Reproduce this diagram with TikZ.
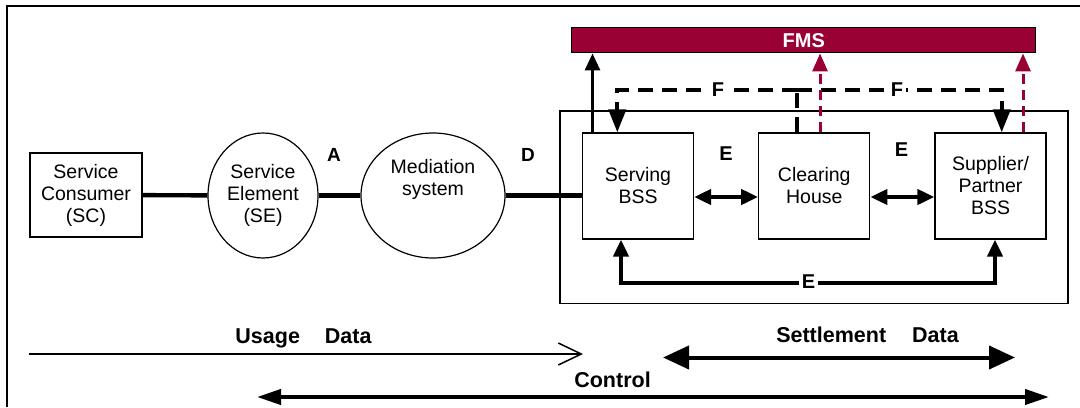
\documentclass[tikz,border=0pt]{standalone}
\usepackage{fontspec}
\setmainfont{Liberation Sans}
\usetikzlibrary{arrows.meta,shapes.geometric}
\definecolor{fmsred}{HTML}{990033}

\begin{document}
\begin{tikzpicture}[x=0.5pt, y=-0.5pt,
    unit/.style={rectangle, draw, line width=0.6pt, align=center,
        inner sep=1pt, font=\fontsize{9.75}{11}\selectfont},
    bss/.style={unit, minimum width=55.5pt, minimum height=53pt},
    element/.style={ellipse, draw, line width=0.6pt, align=center,
        inner sep=0pt, font=\fontsize{9.75}{11}\selectfont},
    fms/.style={rectangle, draw, line width=0.6pt, fill=fmsred, text=white,
        inner sep=0pt, minimum width=232pt, minimum height=12.5pt,
        font=\bfseries\fontsize{10}{12}\selectfont},
    tag/.style={font=\bfseries\fontsize{10}{12}\selectfont, inner sep=1.5pt},
    flow/.style={font=\bfseries\fontsize{10.75}{13}\selectfont, anchor=base},
    link/.style={line width=2.2pt},
    exchange/.style={line width=2pt,
        {Triangle[length=8.5pt,width=7.5pt]}-{Triangle[length=8.5pt,width=7.5pt]}},
    report/.style={line width=1.5pt, -{Triangle[length=8.5pt,width=7.5pt]}},
    fraud/.style={fmsred, line width=1.5pt, dash pattern=on 5pt off 3pt,
        -{Triangle[length=9pt,width=7.5pt]}},
    notify/.style={line width=2pt, dash pattern=on 7.5pt off 4.5pt}
]
\useasboundingbox (0,0) rectangle (1080,407);

% frames
\draw[line width=1pt] (6.5,407) -- (6.5,5.5) -- (1080,5.5);
\draw[line width=0.6pt] (560,111) rectangle (1068,303.5);

% usage chain
\node (SC) [unit, minimum width=56pt, minimum height=42pt] at (86,195) {Service\\Consumer\\(SC)};
\node (SE) [element, minimum width=55pt, minimum height=62.5pt] at (263,195.5) {Service\\Element\\(SE)};
\node (Med) [element, minimum width=72pt, minimum height=62.5pt, text depth=18.5pt] at (433,195.5) {Mediation\\system};

% business support systems
\node (Serving) [bss] at (638,186) {Serving\\BSS};
\node (Clearing) [bss] at (814.25,186) {Clearing\\House};
\node (Supplier) [bss] at (990.5,186) {Supplier/\\Partner\\BSS};
\node (FMS) [fms] at (803.8,40.35) {FMS};

\draw[link] (SC) -- (SE);
\draw[link] (SE) -- (Med);
\draw[link] (Med.east) -- (Med.east -| Serving.west);
\node (labA) [tag, font=\bfseries\fontsize{9.5}{11}\selectfont] at (334,155) {A};
\node (labD) [tag, font=\bfseries\fontsize{9.5}{11}\selectfont] at (528,155) {D};

% E interfaces
\draw[exchange] ([yshift=-5.5pt]Serving.east) -- ([yshift=-5.5pt]Clearing.west);
\draw[exchange] ([yshift=-5.5pt]Clearing.east) -- ([yshift=-5.5pt]Supplier.west);
\node (labE1) [tag] at (726,154) {E};
\node (labE2) [tag] at (901.5,150) {E};
\draw[exchange] ([xshift=-8.5pt]Serving.south) -- ++(0,43) -| ([xshift=2.25pt]Supplier.south);
\node (labE3) [tag, fill=white] at (808.5,282) {E};

% F interfaces
\coordinate (Fjoin) at (797.3,89.5);
\draw[notify] (Clearing.north -| Fjoin) -- (Fjoin);
\draw[notify, -{Triangle[length=11.5pt,width=8.5pt]}] (Fjoin) -| ([xshift=-10.35pt]Serving.north);
\draw[notify, -{Triangle[length=11.5pt,width=8.5pt]}] (Fjoin) -| ([xshift=5.6pt]Supplier.north);
\node (labF1) [tag, fill=white] at (718,89.5) {F};
\node (labF2) [tag, fill=white] at (897,89.5) {F};

% reports to FMS
\draw[report] ([xshift=5.3pt]Serving.north west) -- ([xshift=5.3pt]Serving.north west |- FMS.south);
\draw[fraud] ([xshift=2.9pt]Clearing.north) -- ([xshift=2.9pt]Clearing.north |- FMS.south);
\draw[fraud] ([xshift=16.25pt]Supplier.north) -- ([xshift=16.25pt]Supplier.north |- FMS.south);

% data flows
\coordinate (U1) at (29,354);
\coordinate (U2) at (583,354);
\draw[line width=0.75pt, -{Straight Barb[length=11.5pt,width=11pt]}] (U1) -- (U2);
\node (usage) [flow] at (303.5,343) {Usage\hspace{12.5pt}Data};
\coordinate (S1) at (663,357.5);
\coordinate (S2) at (1015,357.5);
\draw[line width=2pt, {Triangle[length=13pt,width=11.5pt]}-{Triangle[length=13pt,width=11.5pt]}] (S1) -- (S2);
\node (settle) [flow] at (867.5,342) {Settlement\hspace{13pt}Data};
\coordinate (C1) at (257,397);
\coordinate (C2) at (1049,397);
\draw[line width=2pt, {Triangle[length=12pt,width=7.5pt]}-{Triangle[length=12pt,width=7.5pt]}] (C1) -- (C2);
\node (control) [flow] at (612.5,387) {Control};
\end{tikzpicture}
\end{document}
